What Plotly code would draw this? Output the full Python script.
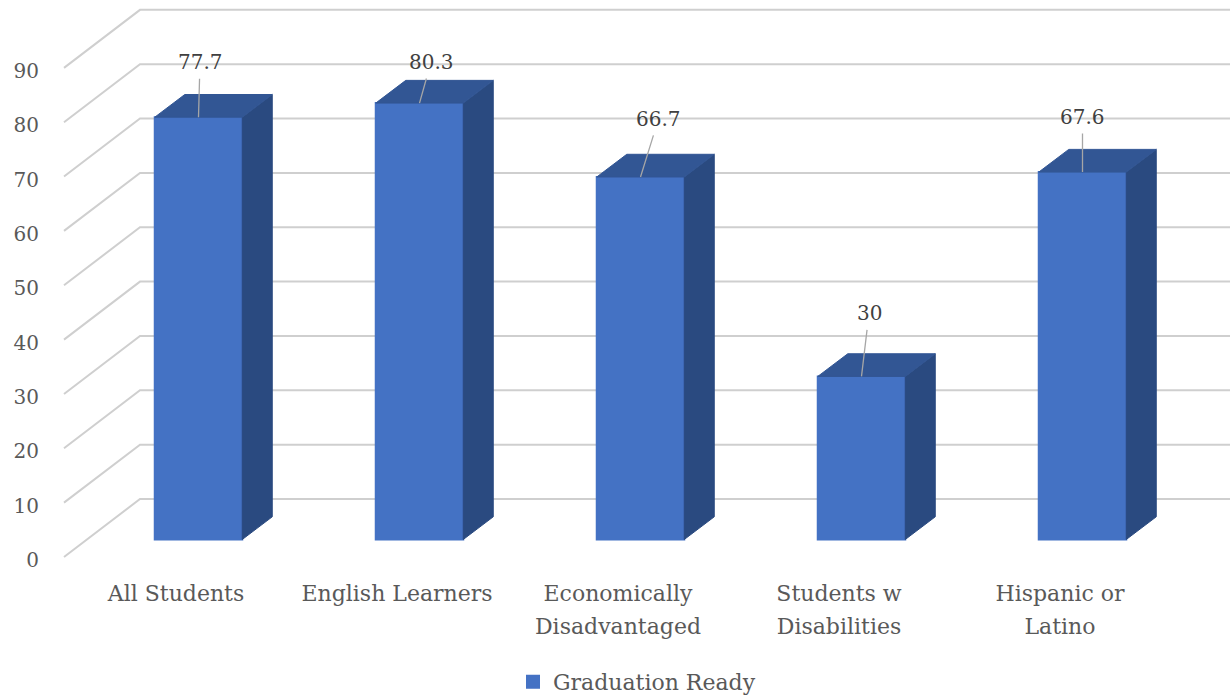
import plotly.graph_objects as go

# ---- data ----
categories_line1 = ["All Students", "English Learners", "Economically", "Students w", "Hispanic or"]
categories_line2 = ["", "", "Disadvantaged", "Disabilities", "Latino"]
values = [77.7, 80.3, 66.7, 30, 67.6]
value_labels = ["77.7", "80.3", "66.7", "30", "67.6"]
y_ticks = [0, 10, 20, 30, 40, 50, 60, 70, 80, 90]
series_name = "Graduation Ready"

# ---- geometry / style (pixels on a 1230x700 canvas) ----
W, H = 1230, 700
SLOT = 221.0
PX_PER_UNIT = 5.435
GRID_ZERO_PX = 557.0
BAR_ZERO_PX = 539.5
BAR_SLOT0_PX = 198.5
LABEL_SLOT0_PX = 176.0
BAR_W = 87.5 / SLOT
BAR_DX = 30 / SLOT
BAR_DY = 22.7 / PX_PER_UNIT
WALL_LEFT_PX, WALL_BACK_PX = 64.0, 140.0
WALL_DY = 58 / PX_PER_UNIT
label_offsets = [(1.5, -55), (11.5, -41), (18, -58), (7.5, -63), (0, -55)]

FRONT, TOP, SIDE = "#4472C4", "#325694", "#2A4A80"
GRID = "#CFCFCF"
FONT = "DejaVu Serif"
TEXT = "#595959"
FS = 20
FS_CAT = 22


def y_range(zero_px):
    return [-(H - zero_px) / PX_PER_UNIT, zero_px / PX_PER_UNIT]


def x_range(slot0_px):
    return [-slot0_px / SLOT, (W - slot0_px) / SLOT]


idx = list(range(len(values)))
fig = go.Figure()

# Wall / floor gridlines (front edge -> back corner -> right edge)
gx, gy = [], []
to_slot = lambda px: (px - LABEL_SLOT0_PX) / SLOT
for t in y_ticks:
    gx += [to_slot(WALL_LEFT_PX), to_slot(WALL_BACK_PX), to_slot(W + 5), None]
    gy += [t, t + WALL_DY, t + WALL_DY, None]
fig.add_trace(go.Scatter(x=gx, y=gy, mode="lines", line=dict(color=GRID, width=2),
                         xaxis="x", yaxis="y", showlegend=False, hoverinfo="skip"))

# Front faces
fig.add_trace(go.Bar(x=idx, y=values, width=BAR_W, name=series_name,
                     marker=dict(color=FRONT, line=dict(color=FRONT, width=2)),
                     xaxis="x2", yaxis="y2", showlegend=True))

# Side and top faces
sx, sy, tx, ty = [], [], [], []
for i, v in zip(idx, values):
    l, r = i - BAR_W / 2, i + BAR_W / 2
    sx += [r, r + BAR_DX, r + BAR_DX, r, r, None]
    sy += [0, BAR_DY, v + BAR_DY, v, 0, None]
    tx += [l, r, r + BAR_DX, l + BAR_DX, l, None]
    ty += [v, v, v + BAR_DY, v + BAR_DY, v, None]
fig.add_trace(go.Scatter(x=sx, y=sy, mode="lines", fill="toself", fillcolor=SIDE,
                         line=dict(color=SIDE, width=1), xaxis="x2", yaxis="y2",
                         showlegend=False, hoverinfo="skip"))
fig.add_trace(go.Scatter(x=tx, y=ty, mode="lines", fill="toself", fillcolor=TOP,
                         line=dict(color=TOP, width=1), xaxis="x2", yaxis="y2",
                         showlegend=False, hoverinfo="skip"))

# Carrier for the second line of the category labels
fig.add_trace(go.Scatter(x=idx, y=[None] * len(idx), mode="markers", xaxis="x3", yaxis="y",
                         showlegend=False, hoverinfo="skip"))

# Data labels with leader lines
annotations = []
for i, v, s, (ax, ay) in zip(idx, values, value_labels, label_offsets):
    annotations.append(dict(x=i, y=v, xref="x2", yref="y2", text=s, showarrow=True,
                            arrowhead=0, arrowwidth=1.3, arrowcolor="#A6A6A6",
                            ax=ax, ay=ay, startstandoff=3,
                            font=dict(family=FONT, size=FS, color="#404040")))

tick_font = dict(family=FONT, size=FS, color=TEXT)
cat_font = dict(family=FONT, size=FS_CAT, color=TEXT)
hidden_axis = dict(showgrid=False, zeroline=False, showline=False, ticks="")

fig.update_layout(
    width=W, height=H,
    margin=dict(l=0, r=0, t=0, b=0, autoexpand=False),
    paper_bgcolor="white", plot_bgcolor="white",
    font=dict(family=FONT, size=FS, color=TEXT),
    barmode="overlay",
    xaxis=dict(domain=[0, 1], range=x_range(LABEL_SLOT0_PX), tickmode="array", tickvals=idx,
               ticktext=categories_line1, tickfont=cat_font, anchor="free",
               position=(H - 578) / H, **hidden_axis),
    xaxis2=dict(domain=[0, 1], range=x_range(BAR_SLOT0_PX), overlaying="x", anchor="y2",
                visible=False),
    xaxis3=dict(domain=[0, 1], range=x_range(LABEL_SLOT0_PX), overlaying="x", tickmode="array",
                tickvals=idx, ticktext=categories_line2, tickfont=cat_font, anchor="free",
                position=(H - 611) / H, **hidden_axis),
    yaxis=dict(domain=[0, 1], range=y_range(GRID_ZERO_PX), tickmode="array", tickvals=y_ticks,
               tickfont=tick_font, anchor="free", position=39 / W, ticklabelshift=3, **hidden_axis),
    yaxis2=dict(domain=[0, 1], range=y_range(BAR_ZERO_PX), overlaying="y", anchor="x2",
                visible=False),
    legend=dict(orientation="h", x=(527 - 14) / W, xanchor="left", y=(H - 682) / H, yanchor="middle",
                font=dict(family=FONT, size=FS_CAT, color=TEXT), bgcolor="rgba(0,0,0,0)",
                itemwidth=30),
    annotations=annotations,
    showlegend=True,
)

fig.write_html("out.html", config=dict(displayModeBar=False),
               post_script="document.body.style.margin='0';document.body.style.overflow='hidden';")
